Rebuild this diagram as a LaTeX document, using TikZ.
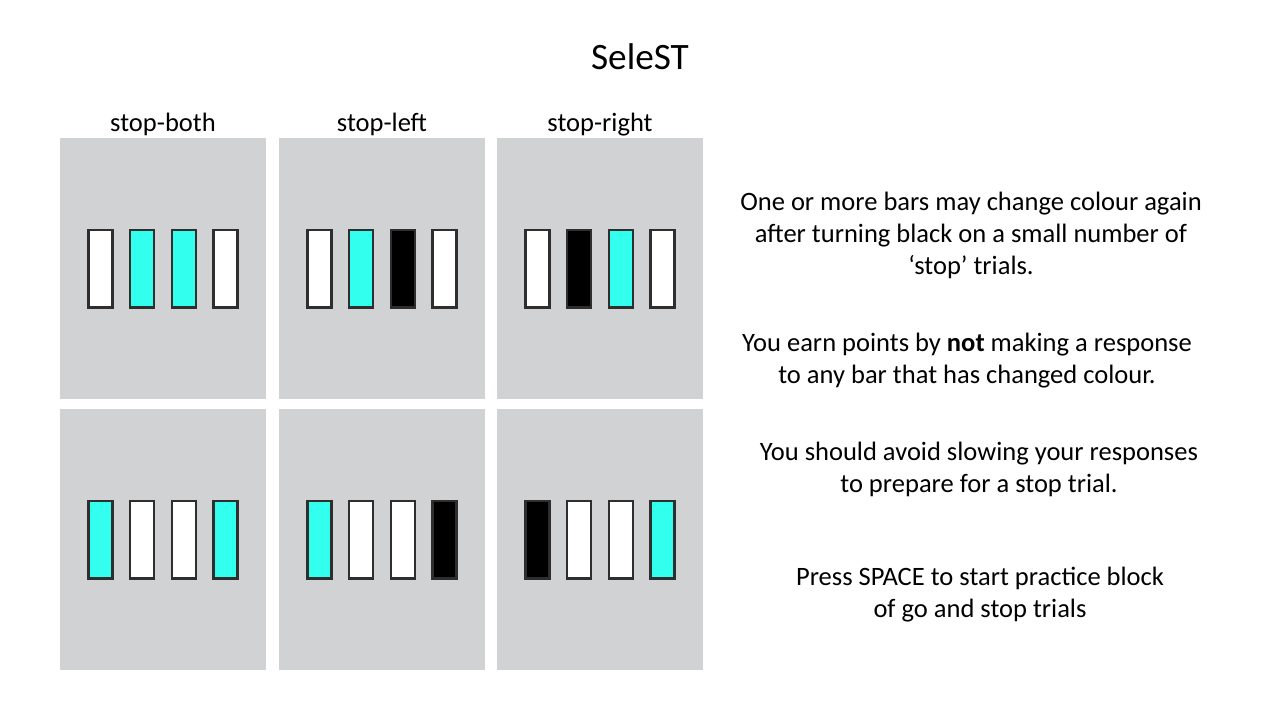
\documentclass[tikz,border=0pt]{standalone}
\usepackage{fontspec}
\setmainfont{Carlito}
\definecolor{panelgrey}{HTML}{D1D2D4}
\definecolor{cue}{HTML}{33FFEE}
\definecolor{rim}{HTML}{2E2E2E}
\tikzset{
  body/.style={font=\fontsize{15.1}{18.2}\selectfont, align=center, inner sep=0pt, anchor=base},
  head/.style={font=\fontsize{15.1}{18.2}\selectfont, inner sep=0pt, anchor=base},
  panel/.style={fill=panelgrey},
  bar/.style={draw=rim, line width=1.4pt},
}

\begin{document}
\begin{tikzpicture}[x=0.02cm, y=-0.02cm]

\def\pw{206}          % panel width, px
\def\ph{261}          % panel height, px
\def\bw{12}           % half bar width, px

\useasboundingbox (0,0) rectangle (1280,720);

% ---------------- title and column heads ----------------
\node[head, font=\fontsize{21.2}{25}\selectfont] (title) at (640,69) {SeleST};
\node[head] (hboth)  at (163,131) {stop-both};
\node[head] (hleft)  at (382,131) {stop-left};
\node[head] (hright) at (600,131) {stop-right};

% ---------------- panels with four bars each ----------------
\foreach \px/\py/\ca/\cb/\cc/\cd in {
    60/138/white/cue/cue/white,   279/138/white/cue/black/white,   497/138/white/black/cue/white,
    60/409/cue/white/white/cue,   279/409/cue/white/white/black,   497/409/black/white/white/cue} {
  \fill[panel] (\px,\py) rectangle ++(\pw,\ph);
  \foreach \j/\c in {-62.5/\ca, -20.8/\cb, 20.8/\cc, 62.5/\cd} {
    \draw[bar, fill=\c] (\px+103+\j-\bw,\py+92) rectangle (\px+103+\j+\bw,\py+169.5);
  }
}

% ---------------- instructions (anchored on the last line) ----------------
\node[body] (note) at (971,274) {One or more bars may change colour again\\after turning black on a small number of\\‘stop’ trials.};
\node[body] (earn) at (967,383) {You earn points by \textbf{not} making a response\\to any bar that has changed colour.};
\node[body] (slow) at (979,492) {You should avoid slowing your responses\\to prepare for a stop trial.};
\node[body] (go)   at (980,617) {Press SPACE to start practice block\\of go and stop trials};

\end{tikzpicture}
\end{document}
